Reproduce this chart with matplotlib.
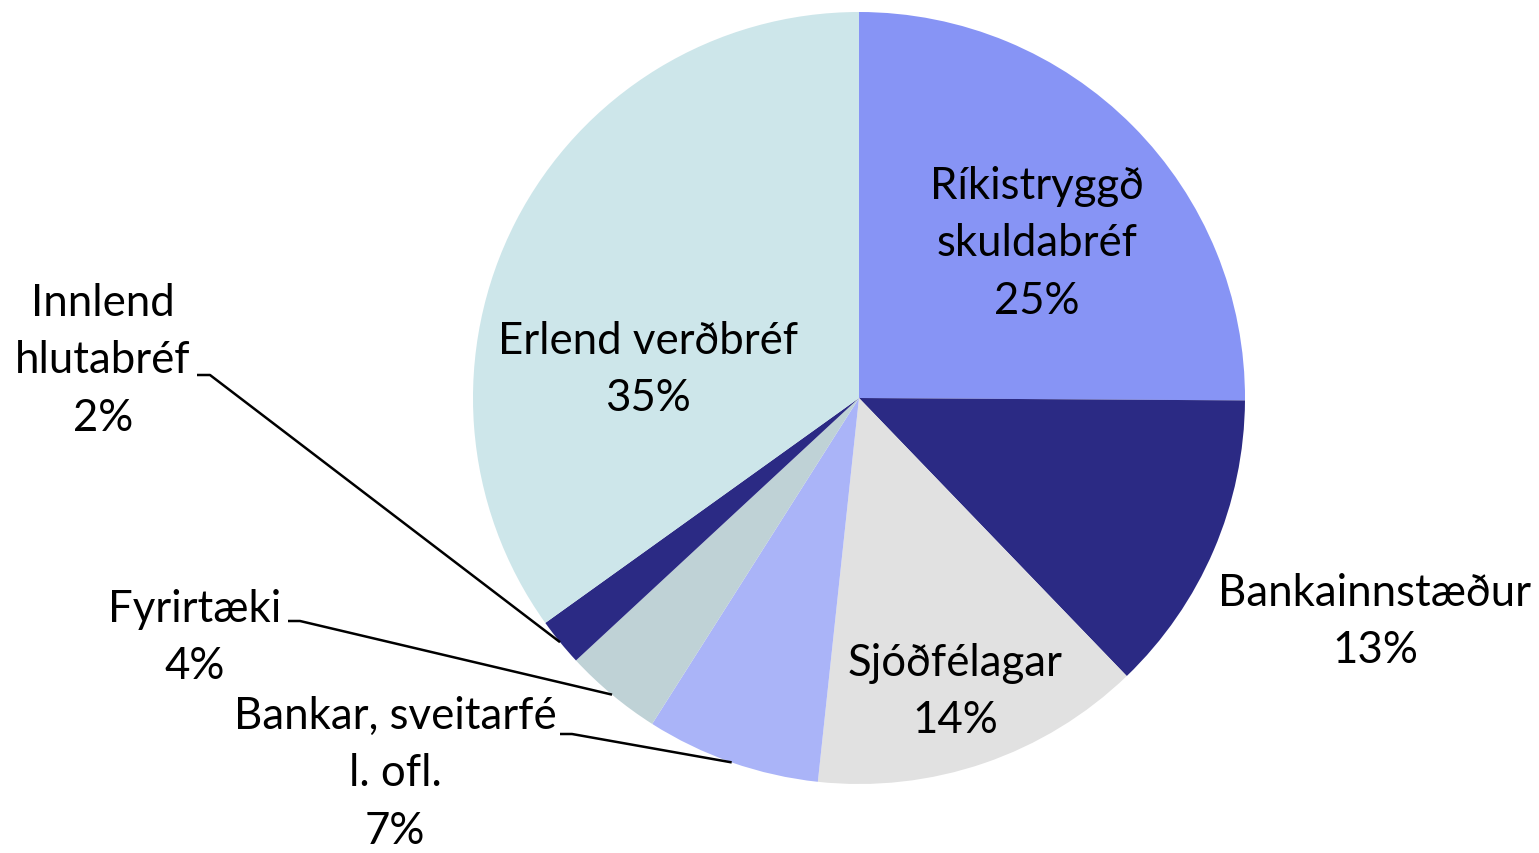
import numpy as np
import matplotlib
matplotlib.use("Agg")
import matplotlib.pyplot as plt

plt.rcParams['font.family'] = ['Lato', 'DejaVu Sans']

names = ["Ríkistryggð\nskuldabréf", "Bankainnstæður", "Sjóðfélagar",
         "Bankar, sveitarfé\nl. ofl.", "Fyrirtæki", "Innlend\nhlutabréf",
         "Erlend verðbréf"]
values = [25.1, 12.7, 13.9, 7.3, 4.1, 2.0, 34.9]
colors = ["#8794F5", "#2B2A84", "#E1E1E1", "#AAB4F8", "#BFD2D6", "#2B2A84", "#CDE6EA"]

# label centres in pixels (layout only)
label_px = [(1037, 244), (1375, 622), (955, 692), (395, 774), (195, 638),
            (103, 361), (648, 370)]
# leader elbow (start, end of short horizontal) in pixels, None = no leader
elbow_px = [None, None, None, ((560, 735), (572, 735)), ((288, 622), (300, 622)),
            ((197, 376), (210, 376)), None]

W, H = 1539, 854
cx, cy, R = 859, 399, 386

def to_data(p):
    return ((p[0] - cx) / R, (cy - p[1]) / R)

fig = plt.figure(figsize=(W / 100, H / 100), dpi=100)
ax = fig.add_axes([0, 0, 1, 1])
wedges, _ = ax.pie(values, colors=colors, startangle=90, counterclock=False,
                   radius=1.0, wedgeprops=dict(linewidth=0))
ax.set_xlim(-cx / R, (W - cx) / R)
ax.set_ylim(-(H - cy) / R, cy / R)
ax.set_aspect('auto')
ax.axis('off')

for w, name, v, lp, el in zip(wedges, names, values, label_px, elbow_px):
    x, y = to_data(lp)
    ax.text(x, y, f"{name}\n{round(v)}%", ha='center', va='center', fontsize=31.5,
            linespacing=1.5, color='black')
    if el is not None:
        ang = np.deg2rad((w.theta1 + w.theta2) / 2)
        rim = (np.cos(ang), np.sin(ang))
        a, b = to_data(el[0]), to_data(el[1])
        ax.plot([a[0], b[0], rim[0]], [a[1], b[1], rim[1]], color='black', lw=1.8,
                solid_capstyle='butt')

fig.savefig("out.png", dpi=100)
